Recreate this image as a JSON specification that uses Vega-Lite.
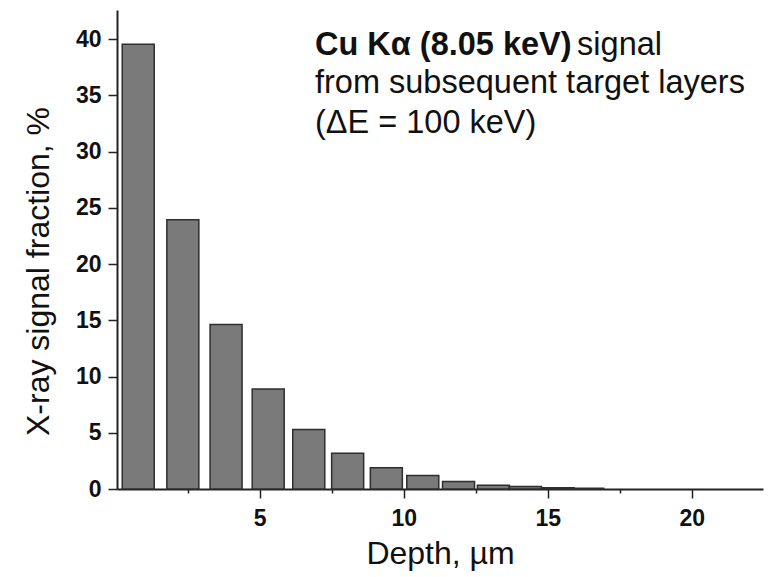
{
  "$schema": "https://vega.github.io/schema/vega-lite/v6.json",
  "autosize": {"type": "none"},
  "padding": {"left": 117, "top": 10, "right": 10, "bottom": 88},
  "width": 646,
  "height": 479,
  "background": "white",
  "config": {
    "view": {"stroke": null},
    "font": "Liberation Sans",
    "axis": {
      "domainColor": "#222222",
      "domainWidth": 2,
      "tickColor": "#222222",
      "tickWidth": 1.5,
      "grid": false,
      "labelFont": "Liberation Sans",
      "labelFontWeight": "bold",
      "labelFontSize": 23,
      "labelColor": "#111111",
      "titleFont": "Liberation Sans",
      "titleFontWeight": "normal",
      "titleFontSize": 32,
      "titleColor": "#111111"
    }
  },
  "layer": [
    {
      "data": {
        "values": [
          {"depth": 0.784, "fraction": 39.55},
          {"depth": 2.332, "fraction": 23.95},
          {"depth": 3.833, "fraction": 14.62},
          {"depth": 5.296, "fraction": 8.9},
          {"depth": 6.704, "fraction": 5.3},
          {"depth": 8.054, "fraction": 3.18},
          {"depth": 9.397, "fraction": 1.9},
          {"depth": 10.662, "fraction": 1.2},
          {"depth": 11.903, "fraction": 0.67},
          {"depth": 13.113, "fraction": 0.33},
          {"depth": 14.223, "fraction": 0.22},
          {"depth": 15.36, "fraction": 0.12},
          {"depth": 16.39, "fraction": 0.07}
        ]
      },
      "mark": {"type": "bar", "width": 32, "fill": "#7a7a7a", "stroke": "#2e2e2e", "strokeWidth": 1.5},
      "encoding": {
        "x": {
          "field": "depth",
          "type": "quantitative",
          "scale": {"domain": [0.22, 22.3], "nice": false, "zero": false},
          "axis": {
            "title": "Depth, µm",
            "values": [2.5, 5, 7.5, 10, 12.5, 15, 17.5, 20],
            "labelExpr": "datum.value % 5 === 0 ? datum.label : ''",
            "tickSize": {"condition": {"test": "datum.value % 5 === 0", "value": 9}, "value": 4},
            "labelPadding": 9,
            "titlePadding": 8
          }
        },
        "y": {
          "field": "fraction",
          "type": "quantitative",
          "scale": {"domain": [0, 42.6], "nice": false},
          "axis": {
            "title": "X-ray signal fraction, %",
            "values": [0, 2.5, 5, 7.5, 10, 12.5, 15, 17.5, 20, 22.5, 25, 27.5, 30, 32.5, 35, 37.5, 40, 42.5],
            "labelExpr": "datum.value % 5 === 0 ? datum.label : ''",
            "tickSize": {"condition": {"test": "datum.value % 5 === 0", "value": 9}, "value": 5},
            "labelPadding": 7,
            "titleX": -62,
            "titleY": 261
          }
        }
      }
    },
    {
      "data": {
        "values": [
          {"x": 6.92, "y": 38.6, "text": "Cu Kα (8.05 keV)"}
        ]
      },
      "mark": {"type": "text", "align": "left", "baseline": "alphabetic", "fontSize": 32.5, "fontWeight": "bold", "font": "Liberation Sans", "color": "#111111"},
      "encoding": {
        "x": {"field": "x", "type": "quantitative"},
        "y": {"field": "y", "type": "quantitative"},
        "text": {"field": "text"}
      }
    },
    {
      "data": {
        "values": [
          {"x": 16.02, "y": 38.6, "text": "signal"},
          {"x": 6.92, "y": 35.19, "text": "from subsequent target layers"},
          {"x": 6.92, "y": 31.66, "text": "(ΔE = 100 keV)"}
        ]
      },
      "mark": {"type": "text", "align": "left", "baseline": "alphabetic", "fontSize": 32.5, "fontWeight": "normal", "font": "Liberation Sans", "color": "#111111"},
      "encoding": {
        "x": {"field": "x", "type": "quantitative"},
        "y": {"field": "y", "type": "quantitative"},
        "text": {"field": "text"}
      }
    }
  ]
}
